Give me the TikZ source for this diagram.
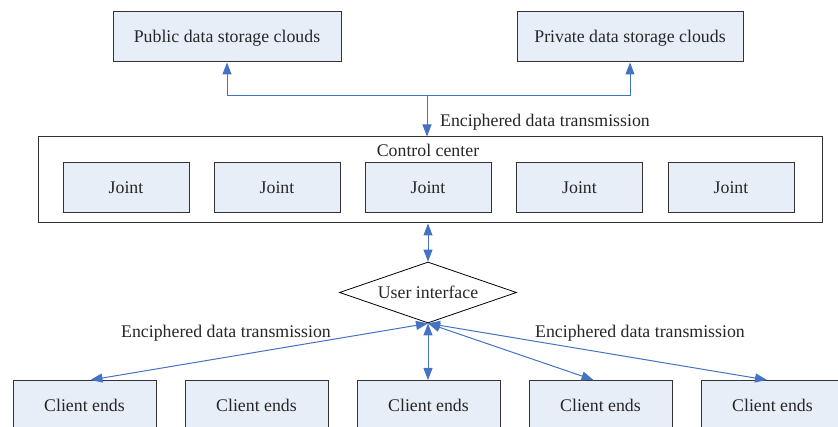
\documentclass[tikz,border=0pt]{standalone}
\usepackage{fontspec}
\setmainfont{Liberation Serif}
\usetikzlibrary{shapes.geometric,arrows.meta}
\definecolor{boxfill}{HTML}{E8EEF8}
\definecolor{arrowblue}{HTML}{4472C4}
\definecolor{boxline}{HTML}{333333}
\begin{document}
\begin{tikzpicture}[x=1pt,y=-1pt,
  txt/.style={font=\fontsize{17.8}{20}\selectfont,text=black!85,text height=15.2pt,text depth=4pt},
  box/.style={txt,draw=boxline,line width=1pt,fill=boxfill,inner sep=0pt},
  lbl/.style={txt,inner sep=0pt},
  conn/.style={draw=arrowblue,line width=1pt,-{Triangle[length=12pt,width=9pt]}},
  dconn/.style={draw=arrowblue,line width=1pt,{Triangle[length=12pt,width=9pt]}-{Triangle[length=12pt,width=9pt]}}]
\useasboundingbox (0,0) rectangle (838,427);
\clip (0,0) rectangle (838,427);
% top clouds
\node[box,minimum width=228pt,minimum height=50pt] (pub) at (227,37) {Public data storage clouds};
\node[box,minimum width=226pt,minimum height=50pt] (priv) at (630,37) {Private data storage clouds};
% control center
\node[draw=boxline,line width=1pt,minimum width=784pt,minimum height=86pt,inner sep=0pt] (cc) at (430,180) {};
\node[lbl] (cclbl) at (428,150.5) {Control center};
\foreach \i/\x in {1/126,2/277,3/428,4/579.5,5/731}{
  \node[box,minimum width=126pt,minimum height=50pt] (j\i) at (\x,188) {Joint};
}
% transmission to clouds
\coordinate (jn) at (427,96);
\draw[conn] (jn) -- (jn |- cc.north);
\draw[conn] (jn) -| (pub.south);
\draw[conn] (jn) -| (priv.south);
\node[lbl,anchor=west] (t1) at (440,120.5) {Enciphered data transmission};
% user interface
\node[txt,draw=black,line width=0.8pt,diamond,aspect=2.9,minimum width=177pt,minimum height=61pt,inner sep=0pt] (ui) at (428,292.5) {User interface};
\draw[dconn] (cc.south -| ui.north) -- (ui.north);
% clients
\foreach \i/\x in {1/84.5,2/256.5,3/428.5,4/600.5,5/772.5}{
  \node[box,minimum width=143pt,minimum height=100pt,anchor=north] (c\i) at (\x,380) {};
  \node[lbl] (ct\i) at (\x,405.5) {Client ends};
}
\draw[dconn] (ui.south) -- ([xshift=6pt]c1.north);
\draw[dconn] (ui.south) -- (c3.north -| ui.south);
\draw[dconn] (ui.south) -- ([xshift=-7pt]c4.north);
\draw[dconn] (ui.south) -- ([xshift=-5.5pt]c5.north);
\node[lbl] (t2) at (226,331.5) {Enciphered data transmission};
\node[lbl] (t3) at (640,331.5) {Enciphered data transmission};
\end{tikzpicture}
\end{document}
